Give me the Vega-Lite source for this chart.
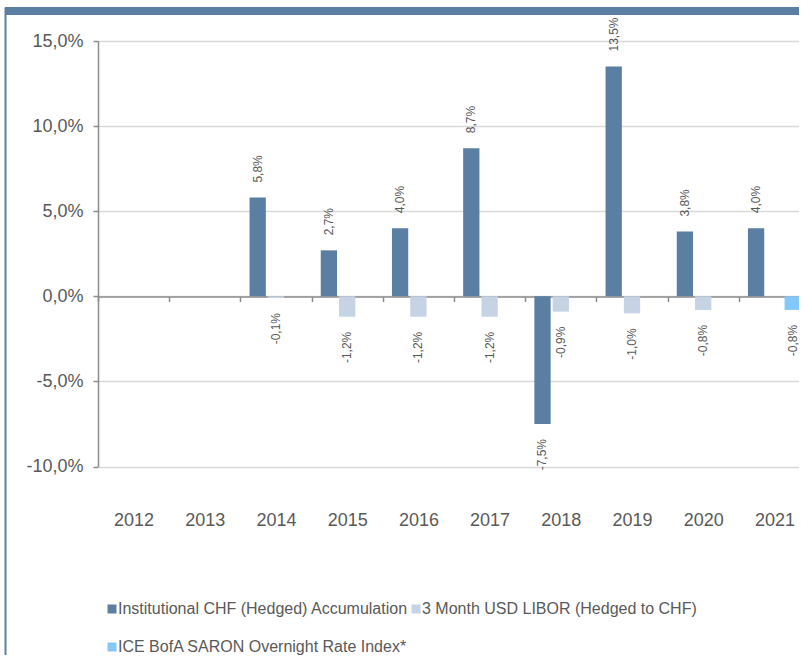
{
  "$schema": "https://vega.github.io/schema/vega-lite/v6.json",
  "width": 794,
  "height": 648,
  "autosize": "none",
  "padding": {"left": 5, "top": 7, "right": 0, "bottom": 0},
  "background": "white",
  "config": {
    "locale": {"number": {"decimal": ",", "thousands": ".", "grouping": [3], "currency": ["", " €"], "minus": "-"}},
    "view": {"stroke": null},
    "font": "Liberation Sans",
    "axis": {"labelFont": "Liberation Sans", "labelColor": "#595959"},
    "legend": {"labelFont": "Liberation Sans"}
  },
  "resolve": {"scale": {"y": "independent"}, "axis": {"y": "independent"}},
  "layer": [
    {
      "data": {"values": [{}]},
      "mark": {"type": "rect", "color": "#5B7FA3"},
      "encoding": {
        "y": {
          "datum": 1, "type": "quantitative",
          "scale": {"domain": [0, 1], "nice": false, "zero": false},
          "axis": {"orient": "left", "offset": 0, "title": null, "labels": false, "ticks": false, "grid": false, "domain": true, "domainColor": "#5B7FA3", "domainWidth": 2}
        },
        "y2": {"datum": 0.98765}
      }
    },
    {
      "data": {
        "values": [
          {"year": "2014", "series": "Institutional CHF (Hedged) Accumulation", "value": 0.058},
          {"year": "2015", "series": "Institutional CHF (Hedged) Accumulation", "value": 0.027},
          {"year": "2016", "series": "Institutional CHF (Hedged) Accumulation", "value": 0.040},
          {"year": "2017", "series": "Institutional CHF (Hedged) Accumulation", "value": 0.087},
          {"year": "2018", "series": "Institutional CHF (Hedged) Accumulation", "value": -0.075},
          {"year": "2019", "series": "Institutional CHF (Hedged) Accumulation", "value": 0.135},
          {"year": "2020", "series": "Institutional CHF (Hedged) Accumulation", "value": 0.038},
          {"year": "2021", "series": "Institutional CHF (Hedged) Accumulation", "value": 0.040},
          {"year": "2014", "series": "3 Month USD LIBOR (Hedged to CHF)", "value": -0.001},
          {"year": "2015", "series": "3 Month USD LIBOR (Hedged to CHF)", "value": -0.012},
          {"year": "2016", "series": "3 Month USD LIBOR (Hedged to CHF)", "value": -0.012},
          {"year": "2017", "series": "3 Month USD LIBOR (Hedged to CHF)", "value": -0.012},
          {"year": "2018", "series": "3 Month USD LIBOR (Hedged to CHF)", "value": -0.009},
          {"year": "2019", "series": "3 Month USD LIBOR (Hedged to CHF)", "value": -0.010},
          {"year": "2020", "series": "3 Month USD LIBOR (Hedged to CHF)", "value": -0.008},
          {"year": "2021", "series": "ICE BofA SARON Overnight Rate Index*", "value": -0.008}
        ]
      },
      "layer": [
        {
          "mark": {"type": "bar"},
          "encoding": {
            "x": {
              "field": "year", "type": "nominal",
              "scale": {"domain": ["2012","2013","2014","2015","2016","2017","2018","2019","2020","2021"], "range": [93, 805], "paddingInner": 0, "paddingOuter": 0},
              "axis": {"orient": "bottom", "offset": -358.5, "title": null, "domainColor": "#8c8c8c", "domainWidth": 1.5, "tickColor": "#8c8c8c", "tickWidth": 1.5, "tickSize": 5, "tickBand": "extent", "labelFontSize": 18, "labelPadding": 210, "labelAngle": 0, "grid": false}
            },
            "xOffset": {
              "field": "series", "type": "nominal",
              "scale": {"domain": ["Institutional CHF (Hedged) Accumulation", "3 Month USD LIBOR (Hedged to CHF)", "ICE BofA SARON Overnight Rate Index*"], "paddingInner": 0.11, "paddingOuter": 0.5}
            },
            "y": {
              "field": "value", "type": "quantitative", "stack": null,
              "scale": {"domain": [-0.1, 0.15], "range": [459.5, 34], "nice": false, "zero": false},
              "axis": {"orient": "left", "values": [-0.1, -0.05, 0, 0.05, 0.1, 0.15], "format": ".1%", "title": null, "offset": -93, "domainColor": "#8c8c8c", "domainWidth": 1.5, "tickColor": "#8c8c8c", "tickWidth": 1.5, "tickSize": 5, "labelFontSize": 18, "labelPadding": 10, "grid": true, "gridColor": "#D9D9D9", "gridWidth": 1.5}
            },
            "color": {
              "field": "series", "type": "nominal",
              "scale": {"domain": ["Institutional CHF (Hedged) Accumulation", "3 Month USD LIBOR (Hedged to CHF)", "ICE BofA SARON Overnight Rate Index*"], "range": ["#5B7FA3", "#C5D3E4", "#84C8F9"]},
              "legend": {"title": null, "orient": "none", "legendX": 99, "legendY": 594, "direction": "horizontal", "columns": 2, "columnPadding": 0, "rowPadding": 22, "symbolType": "square", "symbolSize": 81, "symbolStrokeWidth": 0, "labelFontSize": 16, "labelColor": "#595959", "labelOffset": -2, "labelLimit": 500, "padding": 0}
            }
          }
        },
        {
          "transform": [{"filter": "datum.value > 0"}],
          "mark": {"type": "text", "angle": 270, "align": "left", "baseline": "middle", "dx": 15, "fontSize": 12, "color": "#595959"},
          "encoding": {
            "x": {"field": "year", "type": "nominal"},
            "xOffset": {"field": "series", "type": "nominal"},
            "y": {"field": "value", "type": "quantitative"},
            "text": {"field": "value", "type": "quantitative", "format": ".1%"}
          }
        },
        {
          "transform": [{"filter": "datum.value < 0"}],
          "mark": {"type": "text", "angle": 270, "align": "right", "baseline": "middle", "dx": -15, "fontSize": 12, "color": "#595959"},
          "encoding": {
            "x": {"field": "year", "type": "nominal"},
            "xOffset": {"field": "series", "type": "nominal"},
            "y": {"field": "value", "type": "quantitative"},
            "text": {"field": "value", "type": "quantitative", "format": ".1%"}
          }
        }
      ]
    }
  ]
}
